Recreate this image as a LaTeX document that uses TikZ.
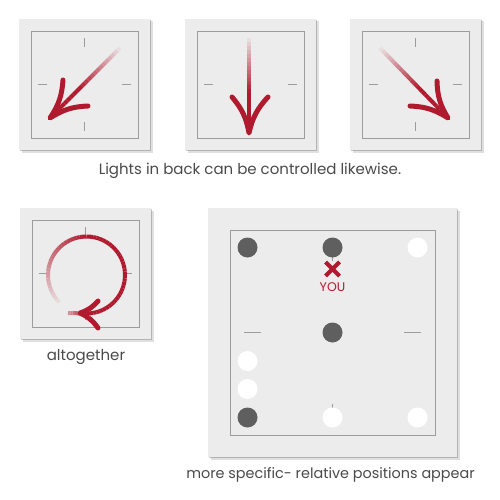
\documentclass[tikz,border=0pt]{standalone}
\usepackage{fontspec}
\setmainfont{Poppins}
\usetikzlibrary{calc,shadows,shapes.misc}

\definecolor{swred}{HTML}{B01A2E}
\definecolor{panelfill}{HTML}{ECECEC}
\definecolor{framegray}{HTML}{9C9C9C}
\definecolor{dotgray}{HTML}{5F5F5F}
\definecolor{textgray}{HTML}{4A4A4A}

\newcommand*{\topy}{19}
\newcommand*{\topsize}{131}
\newcommand*{\topinset}{12}

% switch plate: left, top, size, inset
\newcommand*{\switchplate}[4]{%
	\pgfmathsetmacro{\platecx}{#1+#3/2}
	\pgfmathsetmacro{\platecy}{#2+#3/2}
	\pgfmathsetmacro{\ticka}{0.70*(#3/2-#4)}
	\pgfmathsetmacro{\tickb}{0.86*(#3/2-#4)}
	\fill[platebox] (#1,#2) rectangle ++(#3,#3);
	\draw[frame] (#1+#4,#2+#4) rectangle (#1+#3-#4,#2+#3-#4);
	\foreach \a in {0,90,180,270}
		\draw[tick] ($(\platecx,\platecy)+(\a:\ticka)$) -- ($(\platecx,\platecy)+(\a:\tickb)$);
}

% swipe arrow: tail, tip, barb, barb
\newcommand*{\swipe}[4]{%
	\foreach \i in {1,...,24} {
		\pgfmathsetmacro{\mix}{min(100,7*\i)}
		\draw[shaft,swred!\mix!panelfill] ($(#1)!{(\i-1)/24}!(#2)$) -- ($(#1)!{\i/24}!(#2)$);
	}
	\draw[barb] (#3) to[bend left=15] (#2) to[bend left=15] (#4);
}

\begin{document}
\begin{tikzpicture}
[
	x=1pt,y=-1pt,
	platebox/.style={fill=panelfill,
		general shadow={shadow xshift=2.5pt,shadow yshift=-2.5pt,opacity=.12,fill=black},
		drop shadow={shadow xshift=1.2pt,shadow yshift=-1.2pt,opacity=.3,fill=black!70}},
	frame/.style={draw=framegray,line width=0.8},
	tick/.style={draw=framegray,line width=1},
	shaft/.style={line width=4,line cap=butt},
	barb/.style={swred,line width=5,line cap=round,line join=round},
	darkdot/.style={circle,fill=dotgray,inner sep=0pt,minimum size=20},
	whitedot/.style={circle,fill=white,inner sep=0pt,minimum size=20},
	caption/.style={text=textgray,inner sep=0pt,font=\fontsize{15}{18}\selectfont},
]

	\fill[white] (0,0) rectangle (500,500);
	\useasboundingbox (0,0) rectangle (500,500);

	% top row
	\switchplate{19}{\topy}{\topsize}{\topinset}
	\switchplate{185}{\topy}{\topsize}{\topinset}
	\switchplate{350}{\topy}{\topsize}{\topinset}

	\swipe{120,48}{50,118}{63,80}{88,106}
	\swipe{249,38}{249,133}{232,97}{268,97}
	\swipe{380,48}{448,118}{410,106}{437,81}

	\node[caption] (backcap) at (250,171) {Lights in back can be controlled likewise.};

	% circling
	\switchplate{20}{208}{131}{12}

	\coordinate (loopc) at (86.5,275);
	\foreach \a in {135,140,...,445} {
		\pgfmathsetmacro{\mix}{min(100,8+(\a-135)*0.7)}
		\draw[shaft,swred!\mix!panelfill] ($(loopc)+(\a:38.5)$) arc[start angle=\a,end angle=\a+5,radius=38.5];
	}
	\coordinate (loopend) at ($(loopc)+(90:38.5)$);
	\coordinate (looptip) at (68,313);
	\foreach \i in {1,...,8} {
		\pgfmathsetmacro{\mix}{100-7*\i}
		\draw[shaft,swred!\mix!panelfill] ($(loopend)!{(\i-1)/8}!(looptip)$) -- ($(loopend)!{\i/8}!(looptip)$);
	}
	\draw[barb] (98,301) to[bend left=15] (80,313) to[bend left=15] (98,328);

	\node[caption] (allcap) at (86,357) {altogether};

	% positions
	\switchplate{208}{208}{249}{22}

	\node[darkdot] (tl) at (247.5,247.5) {};
	\node[darkdot] (tm) at (332.5,247.5) {};
	\node[whitedot] (tr) at (417.5,247.5) {};
	\node[darkdot] (mm) at (332.5,332.5) {};
	\node[whitedot] (ml1) at (247.5,361) {};
	\node[whitedot] (ml2) at (247.5,389) {};
	\node[darkdot] (bl) at (247.5,417.5) {};
	\node[whitedot] (bm) at (332.5,417.5) {};
	\node[whitedot] (br) at (417.5,417.5) {};

	\node[cross out,draw=swred,line width=4,inner sep=0pt,minimum size=10] (mark) at (332.5,269) {};
	\node[text=swred,inner sep=0pt,font=\fontsize{12.5}{15}\selectfont] (you) at (332.5,287) {YOU};

	\node[caption,font=\fontsize{14.4}{17}\selectfont] (specap) at (330.5,475) {more specific- relative positions appear};

\end{tikzpicture}
\end{document}
